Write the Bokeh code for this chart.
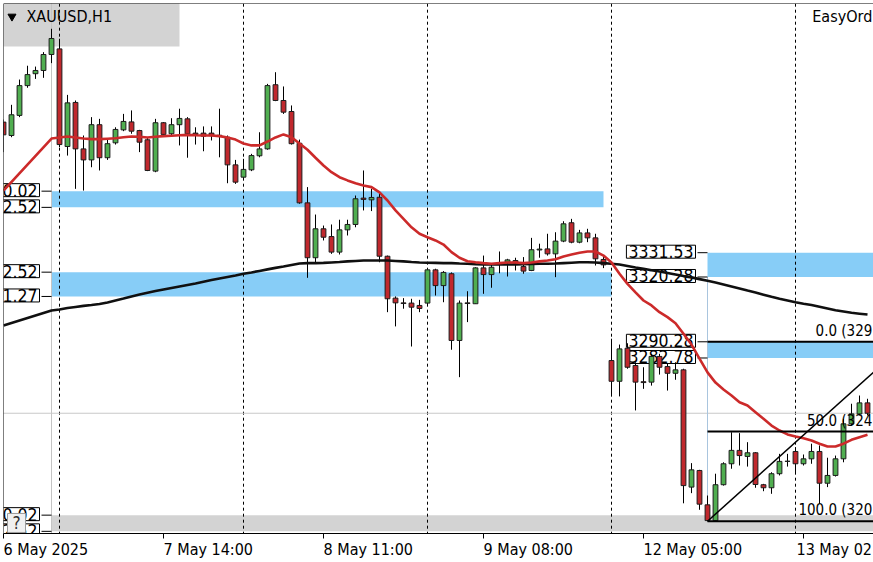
import numpy as np
from bokeh.plotting import figure
from bokeh.models import Range1d, LinearAxis, FixedTicker, Span
from bokeh.core.properties import value
from bokeh.embed import file_html
from bokeh.resources import INLINE

FONT = "DejaVu Sans Condensed, DejaVu Sans"

# ---------------- data (XAUUSD H1) ----------------
bars = list(range(-7, 102))          # bar index, 0 = 7 May 01:00

open_ = [3392.0, 3385.8, 3395.1, 3408.9, 3414.4, 3415.9, 3423.3,
         3425.9, 3380.7, 3401.1, 3379.6, 3374.5, 3390.8, 3375.5, 3382.4, 3388.4, 3392.1,
         3388.1, 3383.8, 3369.3, 3391.7, 3386.6, 3390.8, 3393.5, 3386.9, 3386.9, 3386.9,
         3385.9, 3385.0, 3372.2, 3366.5, 3369.9, 3376.4, 3379.6, 3409.3, 3402.0, 3396.9,
         3382.2, 3354.6, 3329.2, 3342.6, 3339.0, 3331.8, 3342.1, 3344.6, 3356.8, 3356.0,
         3357.2, 3329.9, 3310.5, 3308.3, 3308.2, 3307.1, 3308.2, 3323.6, 3316.3, 3321.8,
         3290.9, 3308.3, 3307.9, 3324.5, 3321.4, 3326.7, 3327.1, 3327.9, 3325.1, 3323.3,
         3332.8, 3333.3, 3331.0, 3336.9, 3345.4, 3336.4, 3340.7, 3338.4, 3328.4, 3281.6,
         3272.0, 3287.3, 3279.3, 3271.8, 3271.6, 3283.5, 3278.8, 3275.7, 3277.3, 3223.0,
         3230.7, 3214.8, 3207.5, 3224.1, 3233.8, 3240.0, 3237.2, 3238.9, 3224.1, 3222.7,
         3229.2, 3235.0, 3239.5, 3233.8, 3236.1, 3239.5, 3224.8, 3228.4, 3236.1, 3252.3,
         3256.9, 3262.0]
high = [3393.2, 3400.0, 3411.7, 3418.1, 3417.7, 3424.4, 3435.2,
        3430.6, 3404.6, 3402.0, 3385.8, 3394.3, 3393.5, 3383.8, 3389.6, 3395.8, 3397.4,
        3388.4, 3384.7, 3393.5, 3392.0, 3393.8, 3398.2, 3394.3, 3389.6, 3390.0, 3390.0,
        3398.2, 3385.8, 3374.5, 3375.0, 3377.3, 3387.3, 3409.7, 3415.1, 3408.5, 3399.7,
        3383.9, 3361.9, 3349.2, 3344.1, 3344.6, 3346.8, 3346.8, 3358.0, 3369.6, 3361.1,
        3358.8, 3330.2, 3311.3, 3310.5, 3310.2, 3309.7, 3324.1, 3324.1, 3323.0, 3322.4,
        3309.4, 3313.7, 3324.8, 3330.2, 3326.1, 3332.1, 3328.7, 3329.2, 3329.5, 3338.4,
        3335.7, 3340.3, 3341.0, 3346.1, 3347.2, 3342.1, 3342.6, 3340.3, 3329.5, 3291.7,
        3289.0, 3289.6, 3280.8, 3278.5, 3284.7, 3284.7, 3280.1, 3280.8, 3277.8, 3234.1,
        3231.0, 3219.1, 3229.2, 3234.5, 3248.4, 3248.0, 3243.8, 3239.2, 3224.5, 3229.9,
        3238.4, 3238.4, 3241.5, 3238.1, 3243.1, 3242.3, 3236.6, 3237.6, 3254.6, 3261.6,
        3265.4, 3263.9]
low = [3378.1, 3385.0, 3394.3, 3407.9, 3412.0, 3412.5, 3419.3,
       3380.4, 3376.5, 3361.1, 3360.3, 3371.1, 3369.6, 3374.5, 3381.6, 3387.8, 3386.6,
       3378.1, 3369.3, 3368.8, 3385.8, 3385.8, 3381.2, 3375.5, 3381.6, 3378.5, 3383.5,
       3375.7, 3363.7, 3363.4, 3365.7, 3369.3, 3375.7, 3379.2, 3401.7, 3395.8, 3381.6,
       3354.2, 3319.9, 3327.1, 3337.2, 3331.0, 3330.7, 3339.5, 3343.3, 3351.1, 3350.8,
       3327.1, 3304.0, 3297.4, 3305.6, 3288.1, 3304.0, 3307.1, 3311.7, 3308.6, 3286.6,
       3273.9, 3299.4, 3307.9, 3312.5, 3315.3, 3322.0, 3320.5, 3323.3, 3321.8, 3323.0,
       3329.2, 3330.2, 3320.2, 3336.4, 3335.9, 3335.9, 3336.4, 3325.6, 3324.4, 3265.4,
       3265.0, 3277.8, 3258.5, 3268.5, 3270.0, 3275.1, 3267.7, 3272.7, 3215.5, 3220.2,
       3212.5, 3207.2, 3207.4, 3223.7, 3231.5, 3233.0, 3232.5, 3222.7, 3221.1, 3219.9,
       3228.4, 3232.5, 3229.9, 3233.0, 3233.8, 3215.3, 3223.0, 3227.9, 3234.5, 3251.5,
       3256.2, 3256.2]
close = [3386.1, 3395.4, 3408.9, 3414.0, 3415.9, 3423.3, 3430.7,
         3381.6, 3400.9, 3379.6, 3374.5, 3390.8, 3375.5, 3382.0, 3388.6, 3392.3, 3387.8,
         3382.7, 3369.6, 3391.7, 3386.3, 3390.8, 3393.7, 3386.6, 3386.3, 3385.5, 3385.7,
         3385.7, 3372.2, 3364.2, 3370.1, 3376.5, 3379.6, 3408.9, 3402.0, 3396.6, 3382.0,
         3354.6, 3329.2, 3342.6, 3338.7, 3331.8, 3342.1, 3344.6, 3356.5, 3356.2, 3357.1,
         3329.9, 3310.2, 3308.3, 3308.0, 3306.3, 3305.7, 3323.6, 3316.3, 3322.4, 3290.9,
         3308.2, 3308.0, 3324.5, 3321.4, 3324.8, 3327.0, 3328.2, 3326.7, 3323.0, 3332.9,
         3333.2, 3331.0, 3336.9, 3344.9, 3336.4, 3340.7, 3338.4, 3328.7, 3325.9, 3272.0,
         3287.0, 3278.5, 3271.6, 3271.4, 3283.5, 3278.5, 3275.7, 3277.3, 3223.7, 3231.0,
         3215.1, 3207.5, 3224.1, 3233.8, 3240.0, 3237.6, 3238.9, 3224.2, 3222.7, 3229.2,
         3234.9, 3234.9, 3233.8, 3236.1, 3239.5, 3224.8, 3228.4, 3236.1, 3252.3, 3256.9,
         3262.0, 3257.2]

ma_bars = [-7] + list(range(-1, 102))
ma_fast = [3360.3,
           3384.4, 3384.9, 3385.3, 3384.9, 3384.4, 3384.1, 3384.1, 3384.3, 3384.5, 3385.0, 3385.3,
           3385.2, 3384.9, 3385.2, 3385.5, 3385.7, 3385.9, 3386.1, 3385.9, 3385.8, 3385.8,
           3385.5, 3384.9, 3383.9, 3382.1, 3381.2, 3381.2, 3383.0, 3384.9, 3386.3, 3385.0,
           3382.1, 3379.2, 3375.5, 3371.9, 3368.8, 3366.5, 3365.0, 3363.7, 3362.6, 3361.9,
           3359.5, 3355.7, 3351.1, 3347.2, 3343.3, 3340.3, 3338.7, 3337.2, 3335.3, 3331.8,
           3329.2, 3327.6, 3327.1, 3326.7, 3326.4, 3326.7, 3327.0, 3327.0, 3326.7, 3327.0,
           3327.5, 3327.9, 3328.5, 3329.8, 3330.7, 3331.5, 3332.1, 3332.1, 3330.2, 3327.0,
           3321.8, 3317.1, 3313.2, 3309.4, 3307.1, 3304.0, 3301.7, 3298.9, 3294.0, 3289.0,
           3282.5, 3276.1, 3271.4, 3268.2, 3265.4, 3262.3, 3260.8, 3257.7, 3254.6, 3251.5,
           3249.2, 3247.4, 3246.4, 3245.6, 3244.6, 3243.1, 3241.8, 3241.8, 3243.1, 3244.9,
           3246.1, 3247.2]
ma_slow = [3297.8,
           3304.8, 3305.2, 3305.9, 3306.4, 3306.9, 3307.3, 3307.8, 3308.5, 3309.4, 3310.3, 3311.3,
           3312.2, 3313.0, 3313.8, 3314.5, 3315.2, 3315.9, 3316.6, 3317.3, 3318.1, 3318.9,
           3319.6, 3320.3, 3321.0, 3321.8, 3322.4, 3323.1, 3323.8, 3324.5, 3325.1, 3325.8,
           3326.5, 3326.7, 3326.7, 3326.8, 3327.0, 3327.2, 3327.5, 3327.7, 3327.9, 3327.9,
           3327.9, 3327.9, 3327.7, 3327.5, 3327.2, 3327.0, 3326.9, 3326.8, 3326.7, 3326.7,
           3326.5, 3326.4, 3326.2, 3326.1, 3326.1, 3326.1, 3326.1, 3326.1, 3326.2, 3326.3,
           3326.4, 3326.4, 3326.5, 3326.7, 3326.9, 3327.1, 3327.1, 3327.0, 3326.7, 3326.4,
           3326.1, 3325.4, 3324.7, 3324.1, 3323.4, 3322.8, 3322.1, 3321.4, 3320.7, 3320.1,
           3319.3, 3318.5, 3317.7, 3316.8, 3315.9, 3315.0, 3314.0, 3313.1, 3312.1, 3311.1,
           3310.2, 3309.4, 3308.6, 3307.9, 3307.3, 3306.5, 3305.7, 3304.9, 3304.3, 3303.7,
           3303.3, 3302.9]

day_start_bars = [0, 23, 46, 69, 92]
tick_bars = [-7, 13, 33, 53, 73, 93]
tick_labels = ["6 May 2025", "7 May 14:00", "8 May 11:00", "9 May 08:00",
               "12 May 05:00", "13 May 02"]

zone_left = [-1, -1, 81, 81, -1]
zone_right = [68, 69, 140, 140, 140]
zone_top = [3360.02, 3322.52, 3331.53, 3290.28, 3210.02]
zone_bottom = [3352.52, 3311.27, 3320.28, 3282.78, 3202.52]
zone_color = ["#87cdf7", "#87cdf7", "#87cdf7", "#87cdf7", "#d3d3d3"]

fib_bars = [81, 106]
fib_prices = [3207.20, 3290.28]
fib_levels = [0.0, 50.0, 100.0]
fib_label_chars = [8, 9, 10]          # characters left visible at the chart's right edge

assert len(open_) == len(high) == len(low) == len(close) == len(bars)
assert len(ma_fast) == len(ma_slow) == len(ma_bars)

# ---------------- figure ----------------
X0, X1 = -7, 101.75
Y0, Y1 = 3201.52, 3446.91
XR = 101.6                       # right-hand text anchor (just inside the window)
PX_PER_BAR = 8.0

p = figure(width=873, height=562, x_range=Range1d(X0, X1), y_range=Range1d(Y0, Y1),
           output_backend="svg", toolbar_location=None,
           x_axis_type=None, y_axis_type=None,
           min_border_left=3, min_border_top=3, min_border_right=0, min_border_bottom=29)
p.outline_line_color = None
p.background_fill_color = "white"
p.border_fill_color = "white"
p.styles = {"position": "absolute", "left": "0px", "top": "0px"}

# zones
p.quad(left=zone_left, right=zone_right, bottom=zone_bottom, top=zone_top,
       fill_color=zone_color, line_color=None)

# title box (top-left)
p.quad(left=[X0], right=[15.0], bottom=[3427.0], top=[Y1 + 20],
       fill_color="#d3d3d3", line_color=None)

# vertical grey line, day separators, bid line
p.segment(x0=[-1], y0=[Y0 - 20], x1=[-1], y1=[Y1 + 20], line_color="#c4c4c4", line_width=1)
p.segment(x0=day_start_bars, y0=Y0 - 20, x1=day_start_bars, y1=Y1 + 20,
          line_color="black", line_width=1, line_dash="3 3")
p.segment(x0=[X0 - 5], y0=[close[-1]], x1=[X1 + 5], y1=[close[-1]],
          line_color="#c8c8c8", line_width=1)
p.segment(x0=[fib_bars[0]], y0=[zone_bottom[2]], x1=[fib_bars[0]], y1=[fib_prices[0]],
          line_color="#a9c5de", line_width=1)

# zone price labels (labels anchored at the left border only show their last digits)
lab_x, lab_y, lab_t = [], [], []
for l, t, b in zip(zone_left, zone_top, zone_bottom):
    for pr in (t, b):
        s = f"{pr:.2f}"
        lab_x.append(l)
        lab_y.append(pr)
        lab_t.append(s[-4:] if l < X0 + 8 else s)
p.ray(x=lab_x, y=lab_y, length=10, length_units="screen", angle=np.pi,
      line_color="black", line_width=1)
p.text(x=lab_x, y=lab_y, text=lab_t, x_offset=-12, y_offset=-1,
       text_align="right", text_baseline="middle",
       text_font=value(FONT), text_font_size="17.5px", text_color="black",
       background_fill_color="white", border_line_color="black", border_line_width=1,
       padding=(2, 0))

# candles
up = [c >= o for o, c in zip(open_, close)]
body_col = ["#50ae50" if u else "#c0282d" for u in up]
p.segment(x0=bars, y0=high, x1=bars, y1=low, line_color="black", line_width=1)
p.vbar(x=bars, width=0.6, top=[max(o, c) for o, c in zip(open_, close)],
       bottom=[min(o, c) for o, c in zip(open_, close)],
       fill_color=body_col, line_color="#1c1c1c", line_width=1)

# moving averages
p.line(ma_bars, ma_slow, line_color="#101010", line_width=2.6)
p.line(ma_bars, ma_fast, line_color="#cc2a2a", line_width=2.6)

# fibonacci
fib_lo, fib_hi = fib_prices
lvl_price = [fib_hi - (fib_hi - fib_lo) * lv / 100.0 for lv in fib_levels]
p.segment(x0=fib_bars[0], y0=lvl_price, x1=140, y1=lvl_price, line_color="black", line_width=2)
p.line(fib_bars, fib_prices, line_color="black", line_width=1.5)
fib_txt = [f"{lv:.1f} ({pr:.2f})"[:n] for lv, pr, n in zip(fib_levels, lvl_price, fib_label_chars)]
p.text(x=XR, y=lvl_price, text=fib_txt,
       y_offset=-2, text_align="right", text_baseline="bottom",
       text_font=value(FONT), text_font_size="15px", text_color="black")

# help box bottom-left
p.quad(left=[-6.5], right=[-4.25], bottom=[3202.0], top=[3210.8],
       fill_color="#f0f0f0", line_color="#9a9a9a", line_width=1)
p.text(x=[-5.375], y=[3206.4], text=["?"], text_align="center", text_baseline="middle",
       text_font=value(FONT), text_font_size="17px", text_color="#303030")

# chart texts
p.scatter(x=[-5.94], y=[3440.9], marker="inverted_triangle", size=8,
          fill_color="black", line_color="black")
p.text(x=[-4.125], y=[3440.9], text=["XAUUSD,H1"], text_align="left", text_baseline="middle",
       text_font=value(FONT), text_font_size="16px", text_color="black")
p.text(x=[XR], y=[3440.9], text=["EasyOrd"], text_align="right", text_baseline="middle",
       text_font=value(FONT), text_font_size="16px", text_color="black")

# frame lines (top, left)
p.add_layout(Span(location=Y1, dimension="width", line_color="black", line_width=1))
p.add_layout(Span(location=X0, dimension="height", line_color="black", line_width=1))

# time axis: tick marks on one axis, labels (left-aligned at each tick) on a second one
tick_axis = LinearAxis(ticker=FixedTicker(ticks=tick_bars),
                       major_label_overrides={k: "" for k in tick_bars},
                       major_label_text_font_size="0px", major_label_standoff=0,
                       major_tick_out=5, major_tick_in=0, minor_tick_out=0, minor_tick_in=0,
                       axis_line_color="black", major_tick_line_color="black")
p.add_layout(tick_axis, "below")

# approximate label half-widths (em units of DejaVu Sans Condensed) to left-align labels
EM = {"d": 0.572, " ": 0.286, "M": 0.776, "a": 0.551, "y": 0.533, ":": 0.303}
def text_px(s, size=16):
    return sum(EM["d"] if ch.isdigit() else EM.get(ch, 0.55) for ch in s) * size

label_pos = []
for i, (b, t) in enumerate(zip(tick_bars, tick_labels)):
    shift = text_px(t) / 2 / PX_PER_BAR
    if i == len(tick_bars) - 1:          # keep the last label inside the window
        shift -= 7 / PX_PER_BAR
    label_pos.append(b + shift)

label_axis = LinearAxis(ticker=FixedTicker(ticks=label_pos),
                        major_label_overrides={k: t for k, t in zip(label_pos, tick_labels)},
                        major_label_text_font=FONT, major_label_text_font_size="16px",
                        major_label_text_color="black", major_label_standoff=1,
                        major_tick_out=0, major_tick_in=0, minor_tick_out=0, minor_tick_in=0,
                        axis_line_color=None, major_tick_line_color=None)
p.add_layout(label_axis, "below")

open("out.html", "w").write(file_html(p, INLINE))
